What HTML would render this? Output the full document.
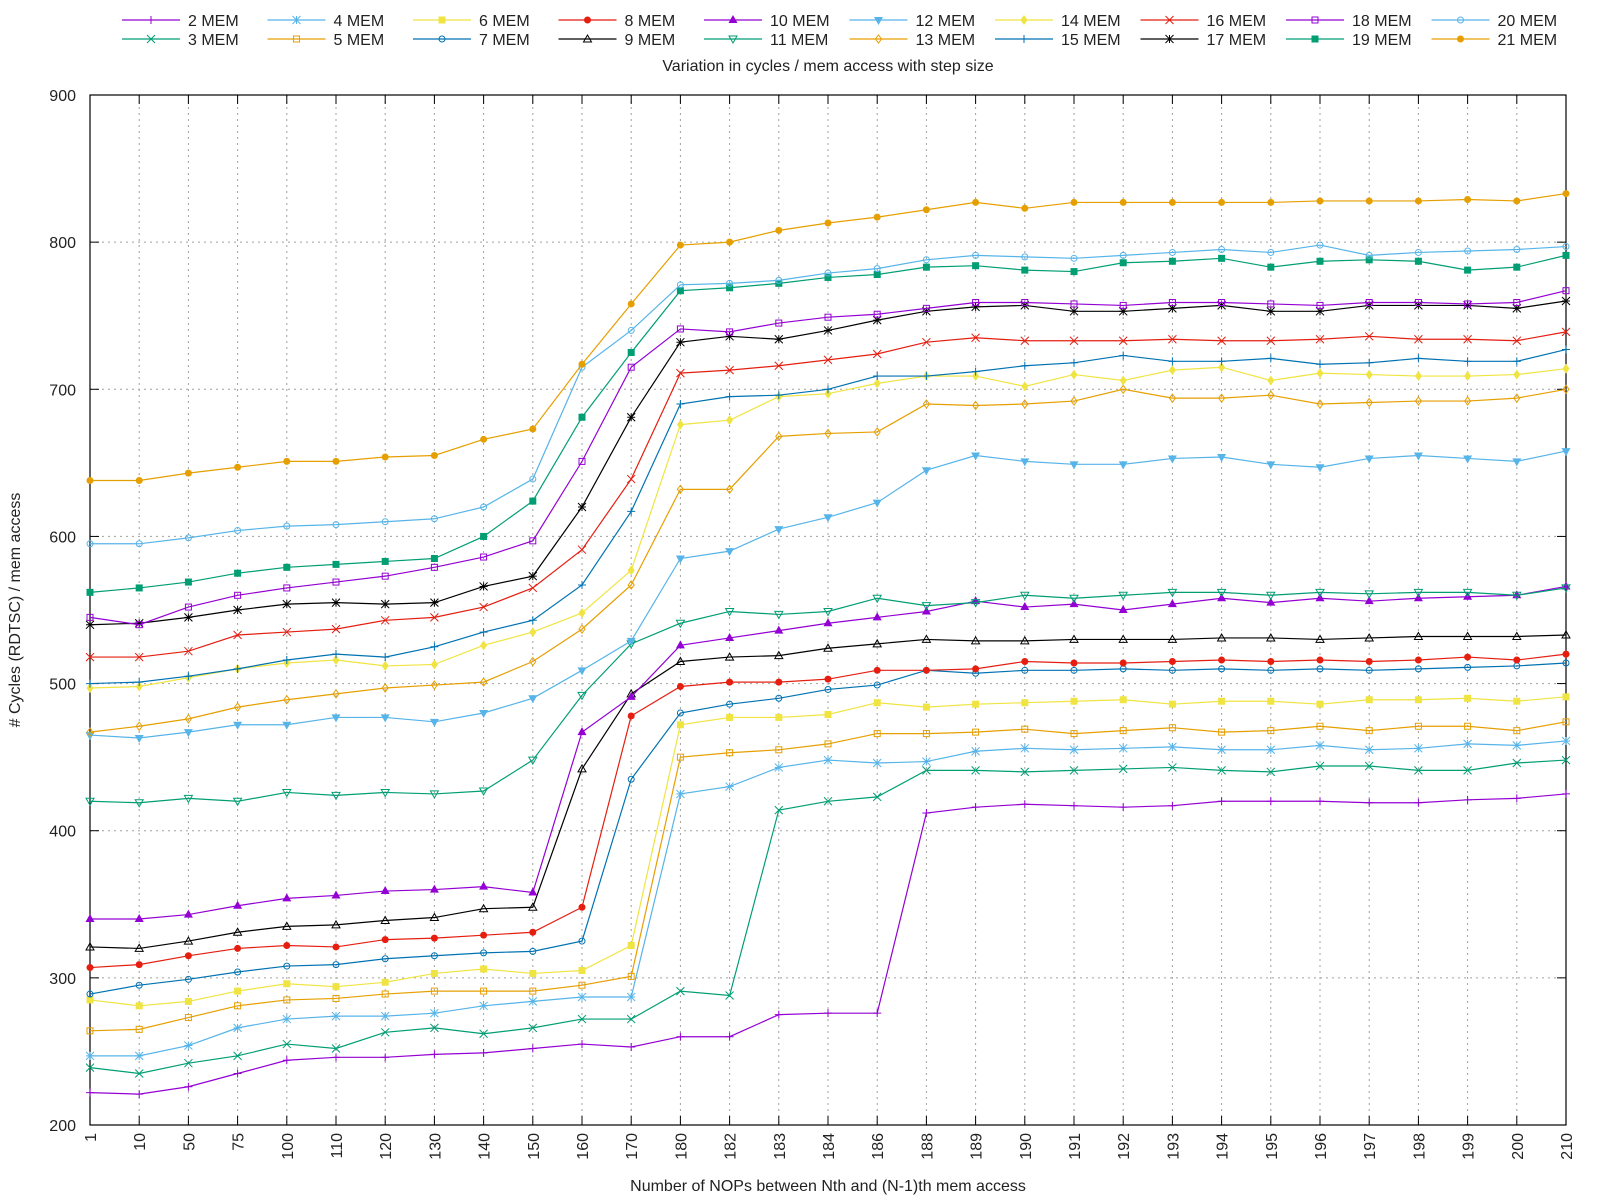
<!DOCTYPE html>
<html><head><meta charset="utf-8"><style>
html,body{margin:0;padding:0;background:#fff;}
svg{display:block;font-family:"Liberation Sans","DejaVu Sans",sans-serif;}
</style></head><body>
<svg id="chart" width="1600" height="1200" viewBox="0 0 1600 1200" xmlns="http://www.w3.org/2000/svg">
<rect x="0" y="0" width="1600" height="1200" fill="#fff"/>
<g id="grid"></g><g id="axes"></g><g id="series"></g><g id="legend"></g>
<text x="828" y="71" text-anchor="middle" font-size="16" fill="#222">Variation in cycles / mem access with step size</text>
<text x="828" y="1191" text-anchor="middle" font-size="16" fill="#222">Number of NOPs between Nth and (N-1)th mem access</text>
<text transform="translate(20,610) rotate(-90)" text-anchor="middle" font-size="16" fill="#222"># Cycles (RDTSC) / mem access</text>
</svg>
<script>
const categories=["1","10","50","75","100","110","120","130","140","150","160","170","180","182","183","184","186","188","189","190","191","192","193","194","195","196","197","198","199","200","210"];
const yTicks=[200,300,400,500,600,700,800,900];
const s2=[222,221,226,235,244,246,246,248,249,252,255,253,260,260,275,276,276,412,416,418,417,416,417,420,420,420,419,419,421,422,425];
const s3=[239,235,242,247,255,252,263,266,262,266,272,272,291,288,414,420,423,441,441,440,441,442,443,441,440,444,444,441,441,446,448];
const s4=[247,247,254,266,272,274,274,276,281,284,287,287,425,430,443,448,446,447,454,456,455,456,457,455,455,458,455,456,459,458,461];
const s5=[264,265,273,281,285,286,289,291,291,291,295,301,450,453,455,459,466,466,467,469,466,468,470,467,468,471,468,471,471,468,474];
const s6=[285,281,284,291,296,294,297,303,306,303,305,322,472,477,477,479,487,484,486,487,488,489,486,488,488,486,489,489,490,488,491];
const s7=[289,295,299,304,308,309,313,315,317,318,325,435,480,486,490,496,499,509,507,509,509,510,509,510,509,510,509,510,511,512,514];
const s8=[307,309,315,320,322,321,326,327,329,331,348,478,498,501,501,503,509,509,510,515,514,514,515,516,515,516,515,516,518,516,520];
const s9=[321,320,325,331,335,336,339,341,347,348,442,493,515,518,519,524,527,530,529,529,530,530,530,531,531,530,531,532,532,532,533];
const s10=[340,340,343,349,354,356,359,360,362,358,467,491,526,531,536,541,545,549,556,552,554,550,554,558,555,558,556,558,559,560,566];
const s11=[420,419,422,420,426,424,426,425,427,448,492,527,541,549,547,549,558,553,555,560,558,560,562,562,560,562,561,562,562,560,565];
const s12=[465,463,467,472,472,477,477,474,480,490,509,529,585,590,605,613,623,645,655,651,649,649,653,654,649,647,653,655,653,651,658];
const s13=[467,471,476,484,489,493,497,499,501,515,537,567,632,632,668,670,671,690,689,690,692,700,694,694,696,690,691,692,692,694,700];
const s14=[497,498,504,510,514,516,512,513,526,535,548,577,676,679,695,697,704,709,709,702,710,706,713,715,706,711,710,709,709,710,714];
const s15=[500,501,505,510,516,520,518,525,535,543,567,617,690,695,696,700,709,709,712,716,718,723,719,719,721,717,718,721,719,719,727];
const s16=[518,518,522,533,535,537,543,545,552,565,591,639,711,713,716,720,724,732,735,733,733,733,734,733,733,734,736,734,734,733,739];
const s17=[540,541,545,550,554,555,554,555,566,573,620,681,732,736,734,740,747,753,756,757,753,753,755,757,753,753,757,757,757,755,760];
const s18=[545,540,552,560,565,569,573,579,586,597,651,715,741,739,745,749,751,755,759,759,758,757,759,759,758,757,759,759,758,759,767];
const s19=[562,565,569,575,579,581,583,585,600,624,681,725,767,769,772,776,778,783,784,781,780,786,787,789,783,787,788,787,781,783,791];
const s20=[595,595,599,604,607,608,610,612,620,639,715,740,771,772,774,779,782,788,791,790,789,791,793,795,793,798,791,793,794,795,797];
const s21=[638,638,643,647,651,651,654,655,666,673,717,758,798,800,808,813,817,822,827,823,827,827,827,827,827,828,828,828,829,828,833];
const seriesNames=["2 MEM","3 MEM","4 MEM","5 MEM","6 MEM","7 MEM","8 MEM","9 MEM","10 MEM","11 MEM","12 MEM","13 MEM","14 MEM","15 MEM","16 MEM","17 MEM","18 MEM","19 MEM","20 MEM","21 MEM"];
const seriesData=[s2,s3,s4,s5,s6,s7,s8,s9,s10,s11,s12,s13,s14,s15,s16,s17,s18,s19,s20,s21];

const NS="http://www.w3.org/2000/svg";
const L=90,R=1566,T=95,B=1125,YMIN=200,YMAX=900;
const colors=["#9400d3","#009e73","#56b4e9","#e69f00","#f0e442","#0072b2","#e51e10","#000000"];
function xs(i){return L+(R-L)*i/(categories.length-1);}
function ys(v){return B-(v-YMIN)/(YMAX-YMIN)*(B-T);}
function mk(tag,attrs,parent){const e=document.createElementNS(NS,tag);for(const k in attrs)e.setAttribute(k,attrs[k]);parent.appendChild(e);return e;}
const grid=document.getElementById('grid'),axes=document.getElementById('axes'),sg=document.getElementById('series'),lg=document.getElementById('legend');

categories.forEach((c,i)=>{
  const x=xs(i);
  if(i>0&&i<categories.length-1){const g=mk('line',{x1:x,y1:T,x2:x,y2:B,stroke:'#a0a0a0','stroke-width':1,'stroke-dasharray':'2,4'},grid);
  
  }
  mk('line',{x1:x,y1:B,x2:x,y2:B-9,stroke:'#000'},axes);
  mk('line',{x1:x,y1:T,x2:x,y2:T+9,stroke:'#000'},axes);
  const t=mk('text',{transform:`translate(${x+6},${B+8}) rotate(-90)`,'text-anchor':'end','font-size':16,fill:'#222'},axes);
  t.textContent=c;
  
  
});
yTicks.forEach(v=>{
  const y=ys(v);
  if(v>YMIN&&v<YMAX){const g=mk('line',{x1:L,y1:y,x2:R,y2:y,stroke:'#a0a0a0','stroke-width':1,'stroke-dasharray':'2,4'},grid);
  
  }
  mk('line',{x1:L,y1:y,x2:L+9,y2:y,stroke:'#000'},axes);
  mk('line',{x1:R,y1:y,x2:R-9,y2:y,stroke:'#000'},axes);
  const t=mk('text',{x:L-14,y:y+6,'text-anchor':'end','font-size':16,fill:'#222'},axes);
  t.textContent=v;
  
  
});
const frame=mk('rect',{x:L,y:T,width:R-L,height:B-T,fill:'none',stroke:'#000','stroke-width':1.2},axes);



function marker(type,x,y,col,parent){
  const s=4;const sw=1;
  switch(type%13){
   case 0:mk('path',{d:`M${x-s} ${y}H${x+s}M${x} ${y-s}V${y+s}`,stroke:col,'stroke-width':sw,fill:'none'},parent);break;
   case 1:mk('path',{d:`M${x-s} ${y-s}L${x+s} ${y+s}M${x-s} ${y+s}L${x+s} ${y-s}`,stroke:col,'stroke-width':sw,fill:'none'},parent);break;
   case 2:mk('path',{d:`M${x-s} ${y}H${x+s}M${x} ${y-s}V${y+s}M${x-s} ${y-s}L${x+s} ${y+s}M${x-s} ${y+s}L${x+s} ${y-s}`,stroke:col,'stroke-width':sw,fill:'none'},parent);break;
   case 3:mk('rect',{x:x-3,y:y-3,width:6,height:6,stroke:col,fill:'none','stroke-width':sw},parent);break;
   case 4:mk('rect',{x:x-3.5,y:y-3.5,width:7,height:7,fill:col},parent);break;
   case 5:mk('circle',{cx:x,cy:y,r:3,stroke:col,fill:'none','stroke-width':sw},parent);break;
   case 6:mk('circle',{cx:x,cy:y,r:3.5,fill:col},parent);break;
   case 7:mk('path',{d:`M${x} ${y-4}L${x+4} ${y+3}L${x-4} ${y+3}Z`,stroke:col,fill:'none','stroke-width':sw},parent);break;
   case 8:mk('path',{d:`M${x} ${y-5}L${x+4.5} ${y+3}L${x-4.5} ${y+3}Z`,fill:col},parent);break;
   case 9:mk('path',{d:`M${x} ${y+4}L${x+4} ${y-3}L${x-4} ${y-3}Z`,stroke:col,fill:'none','stroke-width':sw},parent);break;
   case 10:mk('path',{d:`M${x} ${y+5}L${x+4.5} ${y-3}L${x-4.5} ${y-3}Z`,fill:col},parent);break;
   case 11:mk('path',{d:`M${x} ${y-4}L${x+3} ${y}L${x} ${y+4}L${x-3} ${y}Z`,stroke:col,fill:'none','stroke-width':sw},parent);break;
   case 12:mk('path',{d:`M${x} ${y-5}L${x+3.5} ${y}L${x} ${y+5}L${x-3.5} ${y}Z`,fill:col},parent);break;
  }
}
seriesData.forEach((d,si)=>{
  const col=colors[si%8];
  const g=mk('g',{},sg);
  
  
  const pts=d.map((v,i)=>xs(i)+','+ys(v)).join(' ');
  mk('polyline',{points:pts,fill:'none',stroke:col,'stroke-width':1.2},g);
  d.forEach((v,i)=>marker(si,xs(i),ys(v),col,g));
  const col_i=Math.floor(si/2),row=si%2;
  const lx=122+col_i*145.5,ly=20+row*19;
  const le=mk('g',{},lg);
  
  
  mk('line',{x1:lx,y1:ly,x2:lx+58,y2:ly,stroke:col,'stroke-width':1.2},le);
  marker(si,lx+29,ly,col,le);
  const t=mk('text',{x:lx+66,y:ly+6,'font-size':16,fill:'#222'},le);
  t.textContent=seriesNames[si];
});
</script>
</body></html>
